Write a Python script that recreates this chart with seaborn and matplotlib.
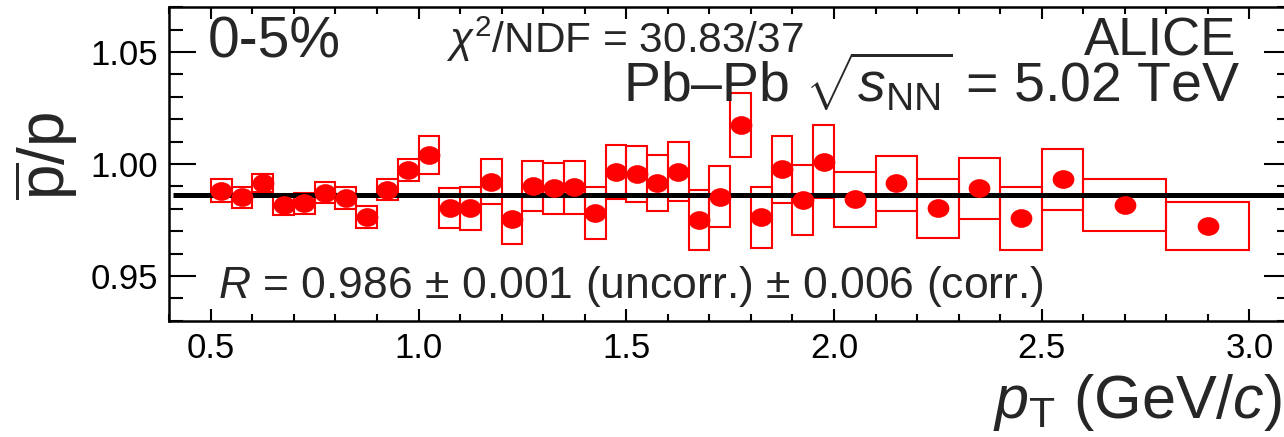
import numpy as np
import pandas as pd
import matplotlib
matplotlib.use("Agg")
import matplotlib.pyplot as plt
import seaborn as sns
from matplotlib.path import Path
from matplotlib.transforms import Affine2D
from matplotlib.ticker import MultipleLocator, FormatStrFormatter

# ---------------- data ----------------
bin_lo = [0.50, 0.55, 0.60, 0.65, 0.70, 0.75, 0.80, 0.85, 0.90, 0.95,
          1.00, 1.05, 1.10, 1.15, 1.20, 1.25, 1.30, 1.35, 1.40, 1.45,
          1.50, 1.55, 1.60, 1.65, 1.70, 1.75, 1.80, 1.85, 1.90, 1.95,
          2.00, 2.10, 2.20, 2.30, 2.40, 2.50, 2.60, 2.80]
bin_hi = [0.55, 0.60, 0.65, 0.70, 0.75, 0.80, 0.85, 0.90, 0.95, 1.00,
          1.05, 1.10, 1.15, 1.20, 1.25, 1.30, 1.35, 1.40, 1.45, 1.50,
          1.55, 1.60, 1.65, 1.70, 1.75, 1.80, 1.85, 1.90, 1.95, 2.00,
          2.10, 2.20, 2.30, 2.40, 2.50, 2.60, 2.80, 3.00]
ratio = [0.9881, 0.9851, 0.9914, 0.9817, 0.9824, 0.9872, 0.9847, 0.9762, 0.9884, 0.9973,
         1.0040, 0.9802, 0.9802, 0.9921, 0.9753, 0.9902, 0.9891, 0.9896, 0.9782, 0.9966,
         0.9955, 0.9914, 0.9966, 0.9750, 0.9854, 1.0174, 0.9762, 0.9976, 0.9839, 1.0010,
         0.9842, 0.9914, 0.9802, 0.9891, 0.9757, 0.9932, 0.9817, 0.9724]
syst = [0.0052, 0.0046, 0.0041, 0.0043, 0.0046, 0.0047, 0.0049, 0.0050, 0.0047, 0.0050,
        0.0086, 0.0089, 0.0095, 0.0100, 0.0110, 0.0113, 0.0115, 0.0119, 0.0117, 0.0121,
        0.0125, 0.0125, 0.0131, 0.0133, 0.0136, 0.0143, 0.0136, 0.0150, 0.0155, 0.0163,
        0.0123, 0.0123, 0.0132, 0.0136, 0.0139, 0.0136, 0.0115, 0.0106]
fit_value = 0.986
fit_range = [0.41, 3.1]

centre_label = "0-5%"
chi2_label = r"$\chi^{2}$/NDF = 30.83/37"
exp_label = "ALICE"
system_label = r"Pb–Pb $\sqrt{s_{\mathrm{NN}}}$ = 5.02 TeV"
fit_label = r"$R$ = 0.986 $\pm$ 0.001 (uncorr.) $\pm$ 0.006 (corr.)"
x_label = r"$p_{\mathrm{T}}$ (GeV/$c$)"
y_label = r"$\overline{\mathrm{p}}$/p"

df = pd.DataFrame({"lo": bin_lo, "hi": bin_hi, "ratio": ratio, "syst": syst})
df["pt"] = (df["lo"] + df["hi"]) / 2
df["width"] = df["hi"] - df["lo"]

# ---------------- style ----------------
sns.set_style("ticks")
plt.rcParams["font.family"] = ["Liberation Sans", "DejaVu Sans"]
plt.rcParams["mathtext.fontset"] = "custom"
plt.rcParams["mathtext.rm"] = "Liberation Sans"
plt.rcParams["mathtext.it"] = "Liberation Sans:italic"
plt.rcParams["mathtext.bf"] = "Liberation Sans:bold"
plt.rcParams["mathtext.sf"] = "Liberation Sans"

W, H = 1284, 437
fig = plt.figure(figsize=(W / 100, H / 100), dpi=100)
ax_l, ax_r, ax_t, ax_b = 169.3, 1291.0, 7.3, 320.7
ax = fig.add_axes([ax_l / W, 1 - ax_b / H, (ax_r - ax_l) / W, (ax_b - ax_t) / H])


def fpos(x, y):
    return x / W, 1 - y / H


# systematic boxes
ax.bar(df["pt"], 2 * df["syst"], bottom=df["ratio"] - df["syst"], width=df["width"],
       fill=False, edgecolor="#ff0000", linewidth=1.5, zorder=2)

# fit line
ax.hlines(fit_value, fit_range[0], fit_range[1], color="black", linewidth=3.6, zorder=3)

# markers (elliptic dots)
ell = Path.unit_circle().transformed(Affine2D().scale(1.0, 0.86))
sns.scatterplot(data=df, x="pt", y="ratio", ax=ax, marker=ell, s=245,
                color="#ff0000", linewidth=0, zorder=4, legend=False)

ax.set_xlim(0.4, 3.1)
ax.set_ylim(0.93, 1.07)
ax.set_xlabel("")
ax.set_ylabel("")

ax.xaxis.set_major_locator(MultipleLocator(0.5))
ax.xaxis.set_minor_locator(MultipleLocator(0.1))
ax.yaxis.set_major_locator(MultipleLocator(0.05))
ax.yaxis.set_minor_locator(MultipleLocator(0.01))
ax.xaxis.set_major_formatter(FormatStrFormatter("%.1f"))
ax.yaxis.set_major_formatter(FormatStrFormatter("%.2f"))

ax.tick_params(axis="both", which="both", direction="in", top=True, right=True,
               width=1.5, colors="black")
ax.tick_params(axis="x", which="major", length=8.6, labelsize=25, pad=8)
ax.tick_params(axis="x", which="minor", length=5)
ax.tick_params(axis="y", which="major", length=19.4, labelsize=25, pad=8)
ax.tick_params(axis="y", which="minor", length=10)
for sp in ax.spines.values():
    sp.set_linewidth(1.8)
    sp.set_color("black")

# texts
fig.text(*fpos(208, 58), centre_label, fontsize=41, ha="left", va="baseline")
fig.text(*fpos(446, 52.5), chi2_label, fontsize=30.5, ha="left", va="baseline")
fig.text(*fpos(1236, 56), exp_label, fontsize=38, ha="right", va="baseline")
fig.text(*fpos(1240, 102.5), system_label, fontsize=40, ha="right", va="baseline")
fig.text(*fpos(218, 297.7), fit_label, fontsize=32, ha="left", va="baseline")
fig.text(*fpos(1282, 418), x_label, fontsize=44, ha="right", va="baseline")
fig.text(*fpos(47, 156), y_label, fontsize=46, rotation=90, ha="center", va="center")

fig.savefig("out.png", dpi=100)
